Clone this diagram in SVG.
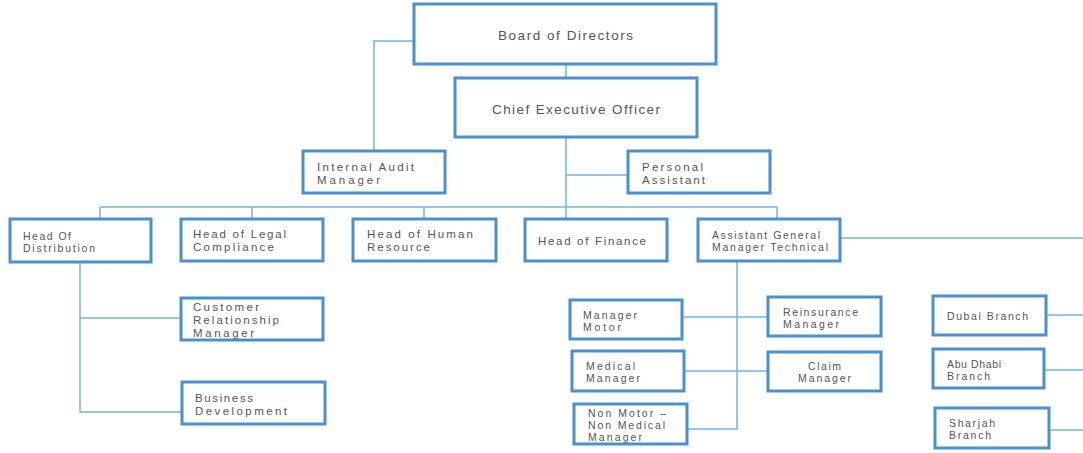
<svg xmlns="http://www.w3.org/2000/svg" width="1083" height="453" viewBox="0 0 1083 453">
<style>
.box{fill:#fff;stroke:#4a8fd0;stroke-width:3}
.t{font-family:"Liberation Sans",Arial,sans-serif;fill:#555}
.s12{font-size:13.5px}.m{font-size:11.5px}.s{font-size:10.5px}
.c{fill:none;stroke:#6cb6e4;stroke-width:1.5}
</style>
<rect width="1083" height="453" fill="#fff"/>
<g id="connectors">
<path class="c" d="M566 64V78"/>
<path class="c" d="M414 41H374V151"/>
<path class="c" d="M566 137V207"/>
<path class="c" d="M566 175H628"/>
<path class="c" d="M100 207H777V219"/>
<path class="c" d="M100 207V219M252 207V219M424 207V219M566 207V219"/>
<path class="c" d="M840 238H1083"/>
<path class="c" d="M80 262V412H182M80 318H181"/>
<path class="c" d="M737 261V429H687"/>
<path class="c" d="M682 317H768"/>
<path class="c" d="M684 371H768"/>
<path class="c" d="M1046 315H1083"/>
<path class="c" d="M1044 370H1083"/>
<path class="c" d="M1049 430H1083"/>
</g>
<g id="board"><rect class="box" x="414" y="4" width="302" height="60"/><text class="t s12" x="498" y="40" textLength="135" lengthAdjust="spacing">Board of Directors</text></g>
<g id="ceo"><rect class="box" x="455" y="78" width="242" height="59"/><text class="t s12" x="492" y="114" textLength="168" lengthAdjust="spacing">Chief Executive Officer</text></g>
<g id="internal-audit"><rect class="box" x="303" y="151" width="142" height="42"/><text class="t m" x="317" y="171" textLength="97" lengthAdjust="spacing">Internal Audit</text><text class="t m" x="317" y="184" textLength="63" lengthAdjust="spacing">Manager</text></g>
<g id="personal-assistant"><rect class="box" x="628" y="151" width="142" height="42"/><text class="t m" x="642" y="171" textLength="61" lengthAdjust="spacing">Personal</text><text class="t m" x="642" y="184" textLength="63" lengthAdjust="spacing">Assistant</text></g>
<g id="head-distribution"><rect class="box" x="10" y="219" width="141" height="43"/><text class="t s" x="23" y="239.5" textLength="48" lengthAdjust="spacing">Head Of</text><text class="t s" x="23" y="251.5" textLength="72" lengthAdjust="spacing">Distribution</text></g>
<g id="head-legal"><rect class="box" x="181" y="219" width="142" height="42"/><text class="t m" x="193" y="237.5" textLength="93" lengthAdjust="spacing">Head of Legal</text><text class="t m" x="193" y="250.5" textLength="81" lengthAdjust="spacing">Compliance</text></g>
<g id="head-hr"><rect class="box" x="353" y="219" width="143" height="42"/><text class="t m" x="367" y="237.5" textLength="106" lengthAdjust="spacing">Head of Human</text><text class="t m" x="367" y="250.5" textLength="63" lengthAdjust="spacing">Resource</text></g>
<g id="head-finance"><rect class="box" x="525" y="219" width="142" height="42"/><text class="t m" x="538" y="245" textLength="108" lengthAdjust="spacing">Head of Finance</text></g>
<g id="agm-technical"><rect class="box" x="698" y="219" width="142" height="42"/><text class="t s" x="712" y="238.5" textLength="108" lengthAdjust="spacing">Assistant General</text><text class="t s" x="712" y="250.5" textLength="116" lengthAdjust="spacing">Manager Technical</text></g>
<g id="crm"><rect class="box" x="181" y="298" width="142" height="42"/><text class="t m" x="193" y="310.5" textLength="66" lengthAdjust="spacing">Customer</text><text class="t m" x="193" y="323.5" textLength="86" lengthAdjust="spacing">Relationship</text><text class="t m" x="193" y="336.5" textLength="61" lengthAdjust="spacing">Manager</text></g>
<g id="business-dev"><rect class="box" x="182" y="382" width="143" height="42"/><text class="t m" x="195" y="401.5" textLength="58" lengthAdjust="spacing">Business</text><text class="t m" x="195" y="414.5" textLength="92" lengthAdjust="spacing">Development</text></g>
<g id="manager-motor"><rect class="box" x="570" y="300" width="112" height="39"/><text class="t s" x="583" y="318.5" textLength="54" lengthAdjust="spacing">Manager</text><text class="t s" x="583" y="330.5" textLength="38" lengthAdjust="spacing">Motor</text></g>
<g id="medical-manager"><rect class="box" x="572" y="351" width="112" height="40"/><text class="t s" x="586" y="369.5" textLength="49" lengthAdjust="spacing">Medical</text><text class="t s" x="586" y="381.5" textLength="54" lengthAdjust="spacing">Manager</text></g>
<g id="non-motor"><rect class="box" x="574" y="404" width="113" height="40"/><text class="t s" x="588" y="416.5" textLength="78" lengthAdjust="spacing">Non Motor –</text><text class="t s" x="588" y="428.5" textLength="77" lengthAdjust="spacing">Non Medical</text><text class="t s" x="588" y="440.5" textLength="54" lengthAdjust="spacing">Manager</text></g>
<g id="reinsurance"><rect class="box" x="768" y="297" width="113" height="39"/><text class="t s" x="783" y="315.5" textLength="75" lengthAdjust="spacing">Reinsurance</text><text class="t s" x="783" y="327.5" textLength="56" lengthAdjust="spacing">Manager</text></g>
<g id="claim"><rect class="box" x="768" y="352" width="113" height="39"/><text class="t s" x="808" y="369.5" textLength="33" lengthAdjust="spacing">Claim</text><text class="t s" x="798" y="381.5" textLength="53" lengthAdjust="spacing">Manager</text></g>
<g id="dubai"><rect class="box" x="933" y="296" width="113" height="39"/><text class="t s" x="947" y="319.5" textLength="81" lengthAdjust="spacing">Dubai Branch</text></g>
<g id="abu-dhabi"><rect class="box" x="933" y="349" width="111" height="39"/><text class="t s" x="947" y="367.5" textLength="54" lengthAdjust="spacing">Abu Dhabi</text><text class="t s" x="947" y="379.5" textLength="43" lengthAdjust="spacing">Branch</text></g>
<g id="sharjah"><rect class="box" x="935" y="408" width="114" height="40"/><text class="t s" x="949" y="426.5" textLength="46" lengthAdjust="spacing">Sharjah</text><text class="t s" x="949" y="438.5" textLength="42" lengthAdjust="spacing">Branch</text></g>
</svg>
